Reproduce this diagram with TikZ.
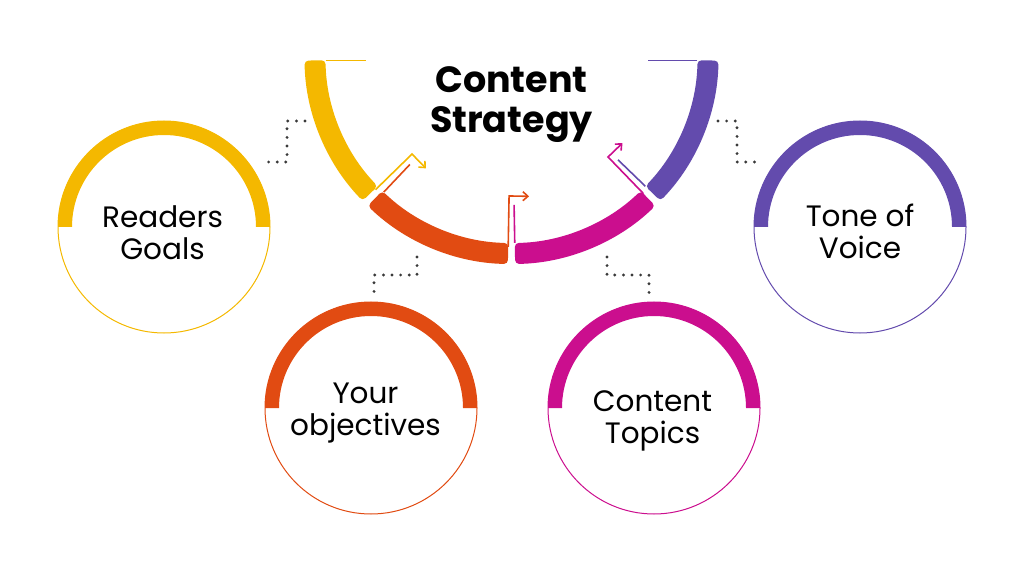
\documentclass[tikz,border=0pt]{standalone}
\usepackage{fontspec}
\setmainfont{Poppins}
\usetikzlibrary{arrows.meta,calc}
\definecolor{cyel}{HTML}{F4B800}
\definecolor{corg}{HTML}{E14B12}
\definecolor{cmag}{HTML}{CB0E8E}
\definecolor{cpur}{HTML}{634BAD}
\definecolor{cdot}{HTML}{3A3A3A}
\begin{document}
\begin{tikzpicture}[x=1pt,y=1pt,
  dots/.style={cdot,line width=3.2pt,line cap=round,dash pattern=on 0pt off 8.6pt},
  flow/.style={line width=1.6pt},
  flowarrow/.style={line width=1.6pt,-{Straight Barb[length=5pt,width=9pt]}},
  ring/.style={line width=1pt},
  label/.style={anchor=base,align=center,font=\fontsize{29.5}{32}\selectfont,text=black},
  title/.style={anchor=base,align=center,font=\fontsize{36.5}{40}\selectfont\bfseries,text=black}]
\useasboundingbox (0,0) rectangle (1024,576);
\coordinate (C) at (511.5,519);
\def\Ro{207}
\def\Ri{186}
% central ring segments
\fill[cyel,rounded corners=4pt] ($(C)+(181:\Ro)$) arc[start angle=181,end angle=224,radius=\Ro] -- ($(C)+(224:\Ri)$) arc[start angle=224,end angle=181,radius=\Ri] -- cycle;
\fill[corg,rounded corners=4pt] ($(C)+(226:\Ro)$) arc[start angle=226,end angle=269,radius=\Ro] -- ($(C)+(269:\Ri)$) arc[start angle=269,end angle=226,radius=\Ri] -- cycle;
\fill[cmag,rounded corners=4pt] ($(C)+(271:\Ro)$) arc[start angle=271,end angle=314,radius=\Ro] -- ($(C)+(314:\Ri)$) arc[start angle=314,end angle=271,radius=\Ri] -- cycle;
\fill[cpur,rounded corners=4pt] ($(C)+(316:\Ro)$) arc[start angle=316,end angle=359,radius=\Ro] -- ($(C)+(359:\Ri)$) arc[start angle=359,end angle=316,radius=\Ri] -- cycle;
% thin top lines
\draw[cyel,line width=1.2pt] ($(C)+(181:\Ri)$) -- ++(40,0);
\draw[cpur,line width=1.2pt] ($(C)+(359:\Ri)$) -- ++(-49,0);
% bent arrows at the gaps
\draw[cyel,flowarrow] ($(C)+(224.3:190)$) -- ($(C)+(224.3:139)$) -- ++(314.3:20);
\draw[corg,flow] ($(C)+(226.6:186)$) -- ($(C)+(226.6:148)$);
\draw[corg,flowarrow] ($(C)+(269:190)$) -- ($(C)+(269:139)$) -- ++(359:20);
\draw[cmag,flow] ($(C)+(271:186)$) -- ($(C)+(271:148)$);
\draw[cmag,flowarrow] ($(C)+(314:190)$) -- ($(C)+(314:139)$) -- ++(44:20);
\draw[cpur,flow] ($(C)+(316:186)$) -- ($(C)+(316:148)$);
% title
\node[title] (title) at (511.5,443) {Content\\Strategy};
% circles
\node[circle,draw=cyel,ring,minimum size=212pt,inner sep=0pt] (RG) at (164,349) {};
\node[circle,draw=corg,ring,minimum size=212pt,inner sep=0pt] (YO) at (371,168) {};
\node[circle,draw=cmag,ring,minimum size=212pt,inner sep=0pt] (CT) at (654,168) {};
\node[circle,draw=cpur,ring,minimum size=212pt,inner sep=0pt] (TV) at (860,349) {};
\foreach \n/\c in {RG/cyel,YO/corg,CT/cmag,TV/cpur}{
  \fill[\c] ($(\n)+(0:106)$) arc[start angle=0,end angle=180,radius=106] -- ++(14,0) arc[start angle=180,end angle=0,radius=92] -- cycle;
}
% labels
\node[label] (tRG) at (162.5,316) {Readers\\Goals};
\node[label] (tYO) at (365.5,141) {Your\\objectives};
\node[label] (tCT) at (652.5,133) {Content\\Topics};
\node[label] (tTV) at (860,317) {Tone of\\Voice};
% dotted connectors
\coordinate (d1a) at (305,455); \coordinate (d1b) at (267,414);
\coordinate (d2a) at (718,455); \coordinate (d2b) at (757,414);
\coordinate (d3a) at (417,319); \coordinate (d3b) at (374,283);
\coordinate (d4a) at (607,319); \coordinate (d4b) at (649,283);
\draw[dots] (d1a) -- ++(-18,0) |- (d1b);
\draw[dots] (d2a) -- ++(19,0) |- (d2b);
\draw[dots] (d3a) -- ++(0,-18) -| (d3b);
\draw[dots] (d4a) -- ++(0,-18) -| (d4b);
\end{tikzpicture}
\end{document}
